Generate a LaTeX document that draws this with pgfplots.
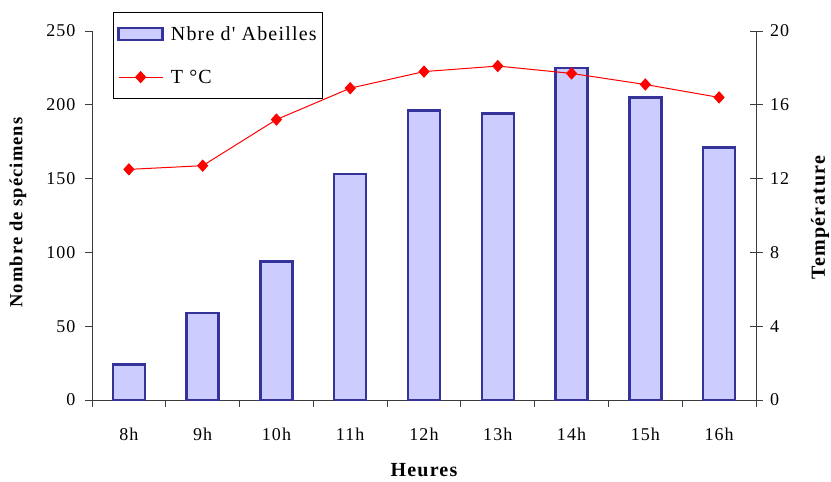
\documentclass[border=0pt]{standalone}
\usepackage{pgfplots}
\pgfplotsset{compat=1.18}
\usetikzlibrary{calc}
\usepackage{fontspec}
\setmainfont{Liberation Serif}
\newfontfamily\spacedfont[LetterSpace=6]{Liberation Serif}

\definecolor{barfill}{RGB}{204,204,255}
\definecolor{baredge}{RGB}{51,51,153}
\definecolor{tline}{RGB}{255,0,0}
\definecolor{axisgray}{RGB}{60,60,60}

\pgfplotsset{
  barlegend/.style={legend image code/.code={\draw[##1] (2bp,-6bp) rectangle (46bp,6bp);}},
  linelegend/.style={legend image code/.code={\draw[mark repeat=2, mark phase=2, ##1] plot coordinates {(2bp,0bp) (24bp,0bp) (46bp,0bp)};}},
}

% Bee counts per hour and air temperature
\pgfplotstableread{
x count temp
0 24  12.5
1 59  12.7
2 94  15.2
3 153 16.9
4 196 17.8
5 194 18.1
6 225 17.7
7 205 17.1
8 171 16.4
}\hourdata

\begin{document}
\begin{tikzpicture}
\useasboundingbox (-92bp,-82bp) rectangle (739bp,400bp);
\pgfplotsset{
  every axis/.append style={
    scale only axis, width=664bp, height=369bp,
    at={(0,0)}, anchor=south west,
    xmin=-0.5, xmax=8.5,
    font=\spacedfont\fontsize{18bp}{21bp}\selectfont,
    /pgf/number format/assume math mode=true,
    axis line style={axisgray, line width=0.8bp},
    every tick/.style={axisgray, line width=0.8bp},
  },
}
% left axis: bars
\begin{axis}[
  axis x line*=bottom, axis y line*=left,
  ymin=0, ymax=250, ytick={0,50,...,250},
  xtick={0,...,8},
  xticklabels={8h,9h,10h,11h,12h,13h,14h,15h,16h},
  major x tick style={draw=none},
  minor xtick={-0.5,0.5,...,8.5},
  tick align=outside,
  major tick length=7bp, minor tick length=7bp,
  xticklabel style={yshift=-17bp},
  yticklabel style={xshift=-6bp},
  xlabel={Heures}, ylabel={Nombre de spécimens},
  every axis x label/.style={at={($(axis description cs:0.5,0)+(0,-70bp)$)}, anchor=center,
    font=\spacedfont\fontsize{20bp}{23bp}\selectfont\bfseries},
  every axis y label/.style={at={($(axis description cs:0,0.5)+(-74bp,3bp)$)}, anchor=center, rotate=90,
    font=\spacedfont\fontsize{18.5bp}{22bp}\selectfont\bfseries},
]
\addplot[ybar, bar width=32bp, draw=baredge, fill=barfill, line width=2.5bp]
  table[x=x, y=count] {\hourdata};
\end{axis}
% right axis: temperature
\begin{axis}[
  axis x line=none, axis y line*=right,
  ymin=0, ymax=20, ytick={0,4,...,20},
  tick align=center, major tick length=13bp,
  yticklabel style={xshift=4bp},
  ylabel={Température},
  every axis y label/.style={at={($(axis description cs:1,0.5)+(64bp,-2bp)$)}, anchor=center, rotate=90,
    font=\spacedfont\fontsize{20bp}{23bp}\selectfont\bfseries},
  legend style={at={(axis description cs:0.0316,1.0515)}, anchor=north west,
    draw=black, line width=0.8bp, fill=white,
    font=\spacedfont\fontsize{20bp}{23bp}\selectfont,
    inner xsep=4bp, inner ysep=12bp, row sep=24bp},
  legend cell align=left,
]
\addlegendimage{draw=baredge, fill=barfill, line width=2.5bp, barlegend}
\addlegendentry{\hspace{5bp}Nbre d' Abeilles}
\addplot[tline, line width=1bp, mark=diamond*, mark size=5.5bp, mark options={xscale=1.2}, linelegend]
  table[x=x, y=temp] {\hourdata};
\addlegendentry{\hspace{5bp}T °C}
\end{axis}
\end{tikzpicture}
\end{document}
